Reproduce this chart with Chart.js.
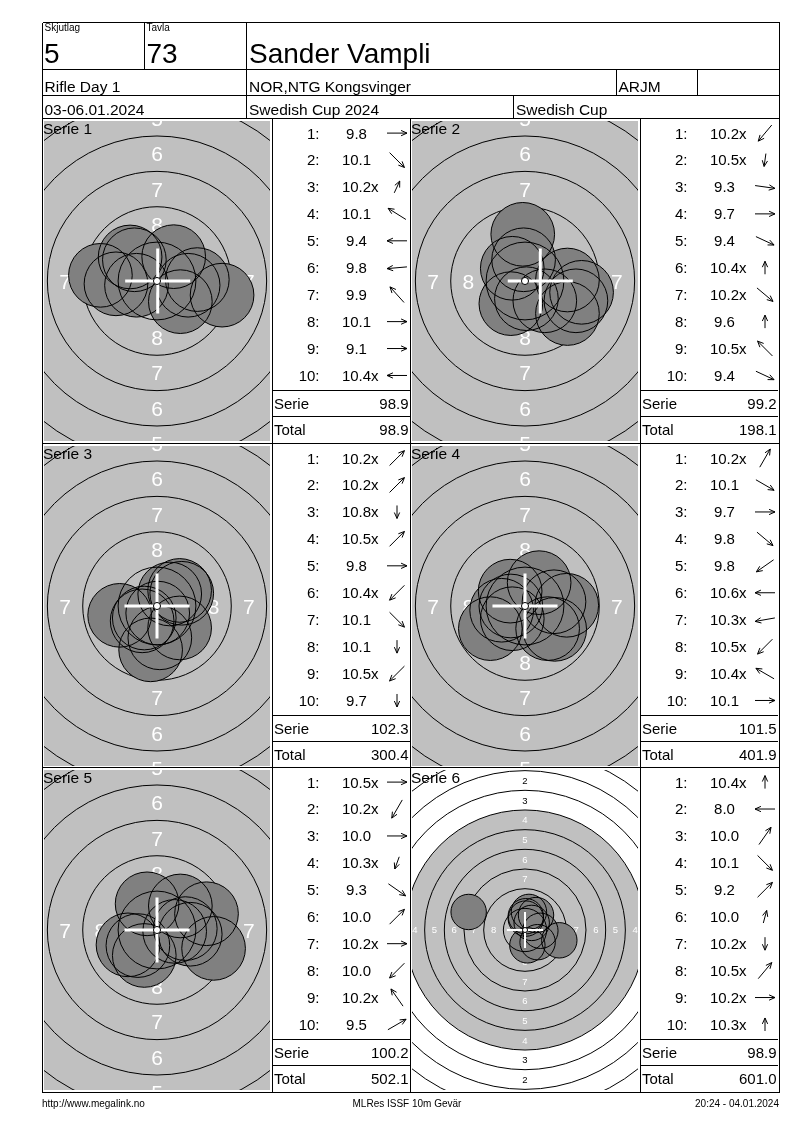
<!DOCTYPE html>
<html>
<head>
<meta charset="utf-8">
<script src="https://cdn.jsdelivr.net/npm/chart.js@4.4.1/dist/chart.umd.min.js"></script>
<style>
html, body { margin: 0; padding: 0; background: #fff; }
#page { position: relative; width: 800px; height: 1130px; overflow: hidden; font-family: "Liberation Sans", Arial, sans-serif; }
#page canvas { position: absolute; }
#sheet { position: absolute; left: 0; top: 0; font-family: "Liberation Sans", Arial, sans-serif; }
</style>
</head>
<body>
<div id="page"><svg id="sheet" width="800" height="1130"></svg></div>
<script>
// header
var shooterName = 'Sander Vampli'
var relay = '5'
var lane = '73'
var eventName = 'Rifle Day 1'
var club = 'NOR,NTG Kongsvinger'
var shooterClass = 'ARJM'
var dates = '03-06.01.2024'
var competition = 'Swedish Cup 2024'
var cupName = 'Swedish Cup'

// one entry per series
var serieNames = ['Serie 1', 'Serie 2', 'Serie 3', 'Serie 4', 'Serie 5', 'Serie 6']
var scores = [
    ['9.8', '10.1', '10.2x', '10.1', '9.4', '9.8', '9.9', '10.1', '9.1', '10.4x'],
    ['10.2x', '10.5x', '9.3', '9.7', '9.4', '10.4x', '10.2x', '9.6', '10.5x', '9.4'],
    ['10.2x', '10.2x', '10.8x', '10.5x', '9.8', '10.4x', '10.1', '10.1', '10.5x', '9.7'],
    ['10.2x', '10.1', '9.7', '9.8', '9.8', '10.6x', '10.3x', '10.5x', '10.4x', '10.1'],
    ['10.5x', '10.2x', '10.0', '10.3x', '9.3', '10.0', '10.2x', '10.0', '10.2x', '9.5'],
    ['10.4x', '8.0', '10.0', '10.1', '9.2', '10.0', '10.2x', '10.5x', '10.2x', '10.3x']
]
// arrow direction, degrees counter-clockwise from "right"
var arrows = [
    [0, -45, 65, 148, 180, 185, 132, 0, 0, 180],
    [230, 262, -8, 0, -25, 90, -40, 90, 135, -25],
    [45, 45, 270, 45, 0, 225, -45, 270, 225, 270],
    [60, -30, 0, -40, 215, 180, 190, 225, 150, 0],
    [0, 240, 0, 250, -35, 45, 0, 225, 125, 30],
    [90, 180, 55, -45, 45, 75, 270, 50, 0, 90]
]
// shot centres in mm from the target centre (x right, y up)
var shotX = [
    [2.85, 1.65, 1.18, -1.6, -4.0, -2.9, -1.9, 2.2, 4.6, -1.45],
    [-1.0, 0.1, 4.0, 3.0, 3.0, -0.1, 1.4, -0.16, -0.9, 3.6],
    [1.6, 1.75, 0.05, 0.9, -2.64, -1.05, 1.6, 0.2, -0.9, -0.45],
    [1.0, 1.6, 2.95, 2.1, -2.45, -1.0, -1.65, -0.9, -1.05, 2.05],
    [1.25, -0.9, 2.35, -1.35, 4.0, 1.65, 2.0, -2.05, -0.7, 3.5],
    [0.1, -7.16, 1.4, 1.6, 4.36, 0.5, 0.3, 0.85, 1.95, 0.1]
]
var shotY = [
    [0.1, -1.46, 1.72, 1.5, 0.4, -0.2, 1.7, -0.3, -1.0, -0.3],
    [-1.6, -1.25, -0.8, 0.07, -2.3, 1.5, -1.4, 3.3, 0.9, -1.4],
    [1.1, 0.9, -0.5, 0.85, -0.66, -1.05, -1.55, -2.25, -0.85, -3.1],
    [1.65, -1.6, 0.05, -1.65, -1.6, 0.0, -0.3, -0.9, 1.05, 0.3],
    [-0.1, -1.8, -0.3, -1.1, -1.3, 1.7, 0.1, -1.05, 1.85, 1.15],
    [1.45, 2.29, 1.9, -1.55, -1.31, 2.3, -1.95, 0.9, -0.1, 1.75]
]
// mean point of impact (white cross)
var mpiX = [0.05, 1.08, 0, 0, 0, 0]
var mpiY = [0, 0, 0, 0, 0, 0]
var serieSum = ['98.9', '99.2', '102.3', '101.5', '100.2', '98.9']
var runningTotal = ['98.9', '198.1', '300.4', '401.9', '502.1', '601.0']
// visible half height of each target, mm
var viewHalf = [11.31, 11.31, 11.31, 11.31, 11.31, 20.33]

var footerLeft = 'http://www.megalink.no'
var footerMid = 'MLRes ISSF 10m Gevär'
var footerRight = '20:24 - 04.01.2024'

var FONT = '"Liberation Sans", Arial, sans-serif'
var pelletR = 2.25
var rowTop = [118.5, 443.5, 767.5]
var targetLeft = [44, 412]
var scoreLeft = [272, 640]

var SVGNS = 'http://www.w3.org/2000/svg'
var svg = document.getElementById('sheet')

function el(name, attrs) {
    var e = document.createElementNS(SVGNS, name)
    for (var k in attrs) e.setAttribute(k, attrs[k])
    svg.appendChild(e)
    return e
}
function line(x1, y1, x2, y2) {
    el('line', { x1: x1, y1: y1, x2: x2, y2: y2, stroke: '#000', 'stroke-width': 1, 'shape-rendering': 'crispEdges' })
}
function text(x, y, s, size, anchor) {
    var t = el('text', { x: x, y: y, 'font-size': size, 'text-anchor': anchor || 'start', fill: '#000' })
    t.textContent = s
    return t
}
function arrow(cx, cy, deg) {
    var a = deg * Math.PI / 180
    var dx = Math.cos(a), dy = -Math.sin(a)
    var half = Math.abs(dx) > 0.9 ? 10 : (Math.abs(dy) > 0.9 ? 6.5 : 10.5)
    var tx = cx + dx * half, ty = cy + dy * half
    var sx = cx - dx * half, sy = cy - dy * half
    var h = 6.5, w = 0.42
    var b = Math.atan2(dy, dx) + Math.PI
    var d = 'M' + sx + ',' + sy + 'L' + tx + ',' + ty +
        'M' + (tx + h * Math.cos(b + w)) + ',' + (ty + h * Math.sin(b + w)) + 'L' + tx + ',' + ty +
        'L' + (tx + h * Math.cos(b - w)) + ',' + (ty + h * Math.sin(b - w))
    el('path', { d: d, stroke: '#000', 'stroke-width': 1, fill: 'none' })
}

var meas = document.createElement('canvas').getContext('2d')
meas.font = '15px ' + FONT

// rings: outer edge of ring n, mm
function ringR(n) { return 0.25 + (10 - n) * 2.5 }

var targetPlugin = {
    id: 'target',
    beforeDatasetsDraw: function (chart) {
        var ctx = chart.ctx, a = chart.chartArea
        var x = chart.scales.x, y = chart.scales.y
        var cx = x.getPixelForValue(0), cy = y.getPixelForValue(0)
        var k = x.getPixelForValue(1) - cx
        ctx.save()
        ctx.beginPath()
        ctx.rect(a.left, a.top, a.right - a.left, a.bottom - a.top)
        ctx.clip()
        ctx.fillStyle = '#fff'
        ctx.fillRect(a.left, a.top, a.right - a.left, a.bottom - a.top)
        ctx.fillStyle = '#c0c0c0'
        ctx.beginPath()
        ctx.arc(cx, cy, ringR(4) * k, 0, Math.PI * 2)
        ctx.fill()
        ctx.strokeStyle = '#000'
        ctx.lineWidth = 1
        for (var n = 1; n <= 8; n++) {
            ctx.beginPath()
            ctx.arc(cx, cy, ringR(n) * k, 0, Math.PI * 2)
            ctx.stroke()
        }
        var fs = k > 10 ? 21 : 9.5
        ctx.font = fs + 'px ' + FONT
        ctx.textAlign = 'center'
        ctx.textBaseline = 'alphabetic'
        var dirs = [[0, -1], [0, 1], [-1, 0], [1, 0]]
        for (var n = 1; n <= 8; n++) {
            var r = (ringR(n) + ringR(n + 1)) / 2 * k
            ctx.fillStyle = n >= 4 ? '#fff' : '#000'
            for (var j = 0; j < dirs.length; j++) {
                ctx.fillText(String(n), cx + dirs[j][0] * r, cy + dirs[j][1] * r + fs * 0.358)
            }
        }
        ctx.restore()
    },
    afterDatasetsDraw: function (chart, args, opts) {
        var ctx = chart.ctx, a = chart.chartArea
        var x = chart.scales.x, y = chart.scales.y
        var cx = x.getPixelForValue(0), cy = y.getPixelForValue(0)
        var k = x.getPixelForValue(1) - cx
        var i = opts.serie
        ctx.save()
        ctx.beginPath()
        ctx.rect(a.left, a.top, a.right - a.left, a.bottom - a.top)
        ctx.clip()
        ctx.strokeStyle = '#000'
        ctx.lineWidth = 1
        ctx.beginPath()
        ctx.arc(cx, cy, ringR(9) * k, 0, Math.PI * 2)
        ctx.stroke()
        // white cross on the mean point
        var mx = x.getPixelForValue(mpiX[i]), my = y.getPixelForValue(mpiY[i])
        var arm = 2.3 * k
        ctx.strokeStyle = '#fff'
        ctx.lineWidth = Math.max(2, Math.round(k * 0.2))
        ctx.beginPath()
        ctx.moveTo(mx - arm, my); ctx.lineTo(mx + arm, my)
        ctx.moveTo(mx, my - arm); ctx.lineTo(mx, my + arm)
        ctx.stroke()
        // centre dot
        ctx.fillStyle = '#fff'
        ctx.strokeStyle = '#000'
        ctx.lineWidth = 1
        ctx.beginPath()
        ctx.arc(cx, cy, Math.max(2.5, ringR(10) * k), 0, Math.PI * 2)
        ctx.fill()
        ctx.stroke()
        ctx.restore()
    }
}

function pelletPx(c) {
    var s = c.chart.scales.x
    return Math.abs(s.getPixelForValue(pelletR) - s.getPixelForValue(0))
}

function drawTarget(i) {
    var row = Math.floor(i / 2), col = i % 2
    var canvas = document.createElement('canvas')
    canvas.width = 226
    canvas.height = 320
    canvas.style.left = targetLeft[col] + 'px'
    canvas.style.top = (rowTop[row] + 2.5) + 'px'
    canvas.style.width = '226px'
    canvas.style.height = '320px'
    document.getElementById('page').insertBefore(canvas, svg)
    var half = viewHalf[i]
    var halfX = half * 226 / 320
    var pts = []
    for (var s = 0; s < shotX[i].length; s++) {
        pts.push({ x: shotX[i][s], y: shotY[i][s] })
    }
    new Chart(canvas.getContext('2d'), {
        type: 'scatter',
        data: {
            datasets: [{
                label: 'outline',
                data: pts,
                order: 1,
                pointRadius: pelletPx,
                pointHoverRadius: pelletPx,
                backgroundColor: 'rgba(0,0,0,0)',
                borderColor: '#000',
                borderWidth: 1
            },
            {
                label: 'shots',
                data: pts,
                order: 2,
                pointRadius: pelletPx,
                pointHoverRadius: pelletPx,
                backgroundColor: '#808080',
                borderWidth: 0
            }]
        },
        options: {
            responsive: false,
            animation: false,
            events: [],
            layout: { padding: 0 },
            plugins: {
                legend: { display: false },
                tooltip: { enabled: false },
                target: { serie: i }
            },
            scales: {
                x: { type: 'linear', min: -halfX, max: halfX, display: false },
                y: { type: 'linear', min: -half, max: half, display: false }
            }
        },
        plugins: [targetPlugin]
    })
}

function drawScores(i) {
    var row = Math.floor(i / 2), col = i % 2
    var T = rowTop[row], L = scoreLeft[col]
    for (var s = 0; s < scores[i].length; s++) {
        var base = T + 20 + 26.93 * s
        text(L + 47.5, base, (s + 1) + ':', 15, 'end')
        var sc = scores[i][s]
        var inner = sc.charAt(sc.length - 1) === 'x'
        var num = inner ? sc.slice(0, -1) : sc
        text(L + 84.5, base, num, 15, 'middle')
        if (inner) text(L + 84.5 + meas.measureText(num).width / 2, base, 'x', 15, 'start')
        arrow(L + 125, base - 5.4, arrows[i][s])
    }
    line(L, T + 271.5, L + 138, T + 271.5)
    line(L, T + 298, L + 138, T + 298)
    text(L + 2, T + 290, 'Serie', 15)
    text(L + 136.5, T + 290, serieSum[i], 15, 'end')
    text(L + 2, T + 316.5, 'Total', 15)
    text(L + 136.5, T + 316.5, runningTotal[i], 15, 'end')
    text(targetLeft[col] - 1, T + 15, serieNames[i], 15.5)
}

for (var i = 0; i < serieNames.length; i++) {
    drawTarget(i)
    drawScores(i)
}

// frame and header
line(42.5, 22.5, 779.5, 22.5)
line(42.5, 69.5, 779.5, 69.5)
line(42.5, 95.5, 779.5, 95.5)
line(42.5, 118.5, 779.5, 118.5)
line(42.5, 443.5, 779.5, 443.5)
line(42.5, 767.5, 779.5, 767.5)
line(42.5, 1092.5, 779.5, 1092.5)
line(42.5, 22.5, 42.5, 1092.5)
line(779.5, 22.5, 779.5, 1092.5)
line(144.5, 22.5, 144.5, 69.5)
line(246.5, 22.5, 246.5, 118.5)
line(616.5, 69.5, 616.5, 95.5)
line(697.5, 69.5, 697.5, 95.5)
line(513.5, 95.5, 513.5, 118.5)
line(272.5, 118.5, 272.5, 1092.5)
line(410.5, 118.5, 410.5, 1092.5)
line(640.5, 118.5, 640.5, 1092.5)

text(44.5, 31, 'Skjutlag', 10)
text(146.5, 31, 'Tavla', 10)
text(44, 63, relay, 28)
text(146.5, 63, lane, 28)
text(249, 63, shooterName, 28)
text(44.5, 92, eventName, 15.5)
text(249, 92, club, 15.5)
text(618.5, 92, shooterClass, 15.5)
text(44.5, 114.5, dates, 15.5)
text(249, 114.5, competition, 15.5)
text(516, 114.5, cupName, 15.5)

text(42, 1107, footerLeft, 10)
text(407, 1107, footerMid, 10, 'middle')
text(779, 1107, footerRight, 10, 'end')
</script>
</body>
</html>
